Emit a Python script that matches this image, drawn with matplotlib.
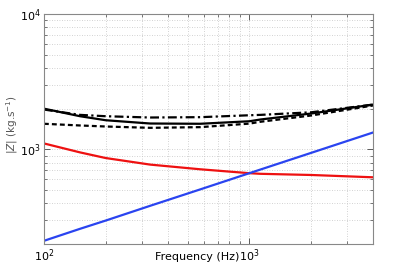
import matplotlib
matplotlib.use("Agg")
import matplotlib.pyplot as plt
from matplotlib.ticker import LogLocator, NullFormatter, FixedLocator

freq = [100, 150, 200, 329, 576, 1000, 1133, 2000, 4000]
z_solid = [2000, 1758, 1642, 1553, 1546, 1614, 1663, 1841, 2143]
z_dashdot = [1970, 1799, 1758, 1720, 1730, 1787, 1799, 1880, 2143]
z_dashed = [1546, 1502, 1476, 1443, 1460, 1550, 1600, 1780, 2110]
z_red = [1107, 950, 863, 772, 713, 667, 660, 647, 622]
z_blue = [211, 259, 298, 383, 506, 667, 710, 943, 1333]

xticks = [1e2, 1e3]
xticklabels = [r"$10^2$", r"$10^3$"]
yticks = [1e3, 1e4]
yticklabels = [r"$10^3$", r"$10^4$"]

plt.rcParams['font.family'] = ['DejaVu Sans']
plt.rcParams['mathtext.fontset'] = 'dejavusans'

fig = plt.figure(figsize=(3.99, 2.64), dpi=100)
ax = fig.add_axes([0.110, 0.0758, 0.825, 0.871])

ax.plot(freq, z_solid, color='black', lw=1.6, ls='-')
ax.plot(freq, z_dashdot, color='black', lw=1.6, ls=(0, (4, 1.5, 1, 1.5)))
ax.plot(freq, z_dashed, color='black', lw=1.6, ls=(0, (2.2, 1.4)))
ax.plot(freq, z_red, color='#ee1111', lw=1.6)
ax.plot(freq, z_blue, color='#2a44f0', lw=1.6)

ax.set_xscale('log')
ax.set_yscale('log')
ax.set_xlim(100, 4000)
ax.set_ylim(200, 1e4)

ax.xaxis.set_major_locator(FixedLocator(xticks))
ax.set_xticklabels(xticklabels)
ax.yaxis.set_major_locator(FixedLocator(yticks))
ax.set_yticklabels(yticklabels)
ax.xaxis.set_minor_locator(LogLocator(base=10, subs=range(2, 10)))
ax.yaxis.set_minor_locator(LogLocator(base=10, subs=range(2, 10)))
ax.xaxis.set_minor_formatter(NullFormatter())
ax.yaxis.set_minor_formatter(NullFormatter())

ax.grid(True, which='both', color='#c4c4c4', ls=(0, (1, 2)), lw=0.6)
ax.tick_params(which='both', direction='in', top=True, right=True, colors='#444444', labelcolor='black', labelsize=8)
ax.tick_params(which='major', length=4, width=0.6, pad=2.5)
ax.tick_params(which='minor', length=2, width=0.5)
for s in ax.spines.values():
    s.set_color('#888888')
    s.set_linewidth(0.8)

ax.set_xlabel('Frequency (Hz)', fontsize=8)
ax.xaxis.set_label_coords(0.466, -0.035)
ax.set_ylabel(r'$|Z|$ (kg.s$^{-1}$)', fontsize=7.5, color='#555555')
ax.yaxis.set_label_coords(-0.074, 0.52)

fig.savefig('out.png', dpi=100)
